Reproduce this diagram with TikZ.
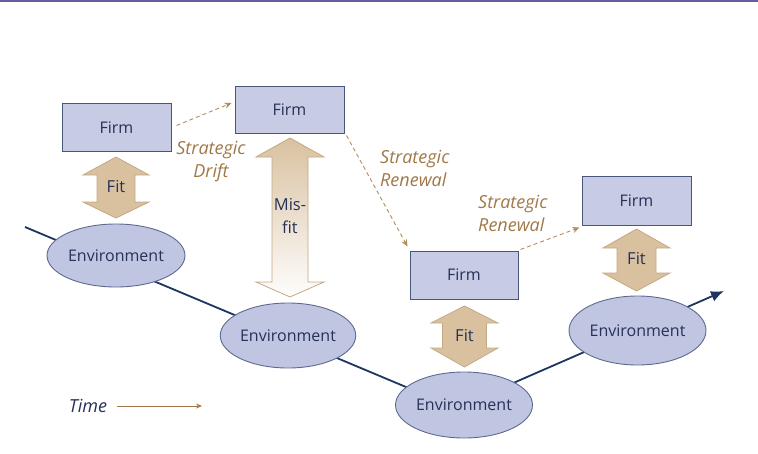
\documentclass[tikz,border=0pt]{standalone}
\usepackage{fontspec}
\setmainfont{Open Sans}
\usetikzlibrary{arrows.meta,calc,shapes.geometric}
\definecolor{firmfill}{RGB}{199,204,228}
\definecolor{firmdraw}{RGB}{72,86,126}
\definecolor{envfill}{RGB}{192,198,226}
\definecolor{envdraw}{RGB}{95,105,145}
\definecolor{fitfill}{RGB}{217,193,160}
\definecolor{fitdraw}{RGB}{196,168,130}
\definecolor{txt}{RGB}{38,48,88}
\definecolor{brown}{RGB}{160,120,72}
\definecolor{dashc}{RGB}{178,140,92}
\definecolor{tline}{RGB}{30,52,98}
\definecolor{topc}{RGB}{100,95,160}
\pgfdeclarelayer{bg}
\pgfsetlayers{bg,main}
\tikzset{
  firmbox/.style={draw=firmdraw, fill=firmfill, line width=1pt, minimum width=109pt, minimum height=48pt, inner sep=0pt, text=txt, font=\fontsize{16}{19}\selectfont},
  envnode/.style={ellipse, draw=envdraw, fill=envfill, line width=0.9pt, inner sep=0pt, text=txt, font=\fontsize{16}{19}\selectfont},
  fitarrow/.style={draw=fitdraw, fill=fitfill, line width=0.8pt},
  fittext/.style={text=txt, font=\fontsize{16.5}{23}\selectfont, align=center, inner sep=0pt},
  label/.style={text=brown, font=\fontsize{18}{23}\selectfont\itshape, inner sep=0pt},
  dasharrow/.style={draw=dashc, line width=0.9pt, dash pattern=on 4pt off 3pt, -{Stealth[length=7pt,width=6pt]}},
  timeline/.style={draw=tline, line width=1.8pt},
}
\begin{document}
\begin{tikzpicture}[x=1pt,y=-1pt]
\path[use as bounding box] (0,0) rectangle (758,453);
\draw[topc, line width=2pt] (0,1) -- (758,1);

% Firms
\node[firmbox] (f1) at (116.5,127.5) {Firm};
\node[firmbox, minimum height=47pt] (f2) at (289.5,109.5) {Firm};
\node[firmbox, minimum width=108pt] (f3) at (464,275) {Firm};
\node[firmbox, minimum height=49pt] (f4) at (636.5,200.5) {Firm};

% Environments
\node[envnode, minimum width=138pt, minimum height=63pt] (e1) at (116,255.5) {Environment};
\node[envnode, minimum width=134pt, minimum height=65pt] (e2) at (288,335.5) {Environment};
\node[envnode, minimum width=137pt, minimum height=66pt] (e3) at (464,405) {Environment};
\node[envnode, minimum width=137pt, minimum height=69pt] (e4) at (637.5,330.5) {Environment};

% timeline
\coordinate (ls) at (25,227);
\coordinate (lv) at (456,408);
\coordinate (le) at (724,291);
\begin{pgfonlayer}{bg}
\draw[timeline, -{Latex[length=13pt,width=11pt]}] (ls) -- (lv) -- (le);
\end{pgfonlayer}

% Fit arrows
\draw[fitarrow] (116,157) -- (149,175) -- (135,175) -- (135,202) -- (149,202) -- (116,218) -- (83,202) -- (97,202) -- (97,175) -- (83,175) -- cycle;
\node[fittext] (fit1) at (116,187) {Fit};

\shade[top color=fitfill, bottom color=white!97!fitfill, draw=fitdraw, line width=0.8pt] (290,138) -- (324,157) -- (308,157) -- (308,282) -- (324,282) -- (290,297) -- (256,282) -- (272,282) -- (272,157) -- (256,157) -- cycle;
\node[fittext] (misfit) at (290,216) {Mis-\\fit};

\draw[fitarrow] (464.5,306) -- (498,323) -- (486.5,323) -- (486.5,348) -- (498,348) -- (464.5,367) -- (431,348) -- (442.5,348) -- (442.5,323) -- (431,323) -- cycle;
\node[fittext] (fit3) at (464.5,336) {Fit};

\draw[fitarrow] (636.5,229) -- (670,248) -- (656,248) -- (656,273) -- (670,273) -- (636.5,291) -- (603,273) -- (617,273) -- (617,248) -- (603,248) -- cycle;
\node[fittext] (fit4) at (636.5,259) {Fit};

% dashed arrows
\draw[dasharrow] ([shift={(5,-2)}]f1.east) -- ([shift={(-3,-6.5)}]f2.west);
\draw[dasharrow] ([shift={(2,2)}]f2.south east) -- ([shift={(-2,-4)}]f3.north west);
\draw[dasharrow] ([shift={(2,-1)}]f3.north east) -- ([shift={(-2,2)}]f4.south west);

% labels
\node[label, align=center] (drift) at (211,162) {Strategic\\Drift};
\node[label, align=left, anchor=west] (ren1) at (380,168) {Strategic\\Renewal};
\node[label, align=left, anchor=west] (ren2) at (478,213) {Strategic\\Renewal};

% time
\node[text=txt, font=\fontsize{18}{20}\selectfont\itshape, inner sep=0pt] (time) at (88,406) {Time};
\coordinate (tend) at (202,406);
\draw[draw=brown, line width=0.8pt, -{Stealth[length=6pt,width=5pt]}] ([xshift=10pt]time.east) -- (tend);
\end{tikzpicture}
\end{document}
